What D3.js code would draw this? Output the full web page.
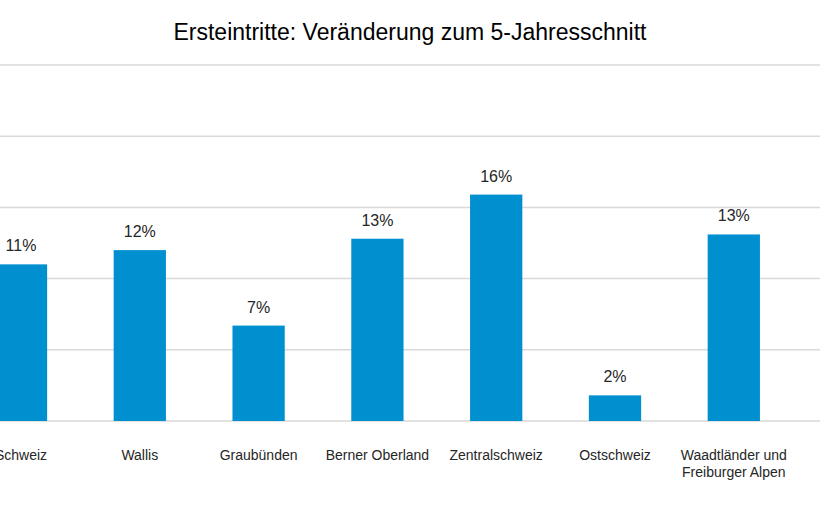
<!DOCTYPE html>
<html>
<head>
<meta charset="utf-8">
<script src="https://cdn.jsdelivr.net/npm/d3@7"></script>
<style>
  body { margin: 0; background: #fff; }
  svg { display: block; font-family: "Liberation Sans", Arial, sans-serif; }
</style>
</head>
<body>
<svg id="chart" width="820" height="513"></svg>
<script>
const regions = ["Schweiz", "Wallis", "Graubünden", "Berner Oberland", "Zentralschweiz", "Ostschweiz", "Waadtländer und|Freiburger Alpen"]
const changes = [11.0, 12.0, 6.7, 12.8, 15.9, 1.8, 13.1]
const valueLabels = ["11%", "12%", "7%", "13%", "16%", "2%", "13%"]
const gridTicks = [0, 5, 10, 15, 20, 25]

const svg = d3.select("#chart")
const W = 820
const baseY = 421, topY = 65

// plot is wider than the window, first category sits at the left edge
const step = 118.8
const x = d3.scaleBand()
    .domain(regions)
    .range([21 - step / 2, 21 - step / 2 + step * regions.length])
    .paddingInner(0.56)
    .paddingOuter(0.28)

const y = d3.scaleLinear().domain([0, 25]).range([baseY, topY])

// gridlines
svg.append("g").selectAll("line")
    .data(gridTicks)
    .join("line")
    .attr("x1", 0).attr("x2", W)
    .attr("y1", d => y(d)).attr("y2", d => y(d))
    .attr("stroke", "#d9d9d9")
    .attr("stroke-width", 1.5)

// bars
svg.append("g").selectAll("rect")
    .data(regions)
    .join("rect")
    .attr("x", d => x(d))
    .attr("y", (d, i) => y(changes[i]))
    .attr("width", x.bandwidth())
    .attr("height", (d, i) => y(0) - y(changes[i]))
    .attr("fill", "#0090cf")

// value labels
svg.append("g").selectAll("text")
    .data(regions)
    .join("text")
    .attr("x", d => x(d) + x.bandwidth() / 2)
    .attr("y", (d, i) => y(changes[i]) - 13)
    .attr("text-anchor", "middle")
    .attr("font-size", "16px")
    .attr("fill", "#262626")
    .text((d, i) => valueLabels[i])

// category labels
const cat = svg.append("g").selectAll("text")
    .data(regions)
    .join("text")
    .attr("x", d => x(d) + x.bandwidth() / 2)
    .attr("y", 460)
    .attr("text-anchor", "middle")
    .attr("font-size", "14px")
    .attr("fill", "#262626")
cat.selectAll("tspan")
    .data(d => d.split("|"))
    .join("tspan")
    .attr("x", function () { return this.parentNode.getAttribute("x") })
    .attr("dy", (d, i) => i ? 17 : 0)
    .text(d => d)

svg.append("text")
    .attr("x", 410).attr("y", 40)
    .attr("text-anchor", "middle")
    .attr("font-size", "23px")
    .attr("fill", "#000")
    .text("Ersteintritte: Veränderung zum 5-Jahresschnitt")
</script>
</body>
</html>
